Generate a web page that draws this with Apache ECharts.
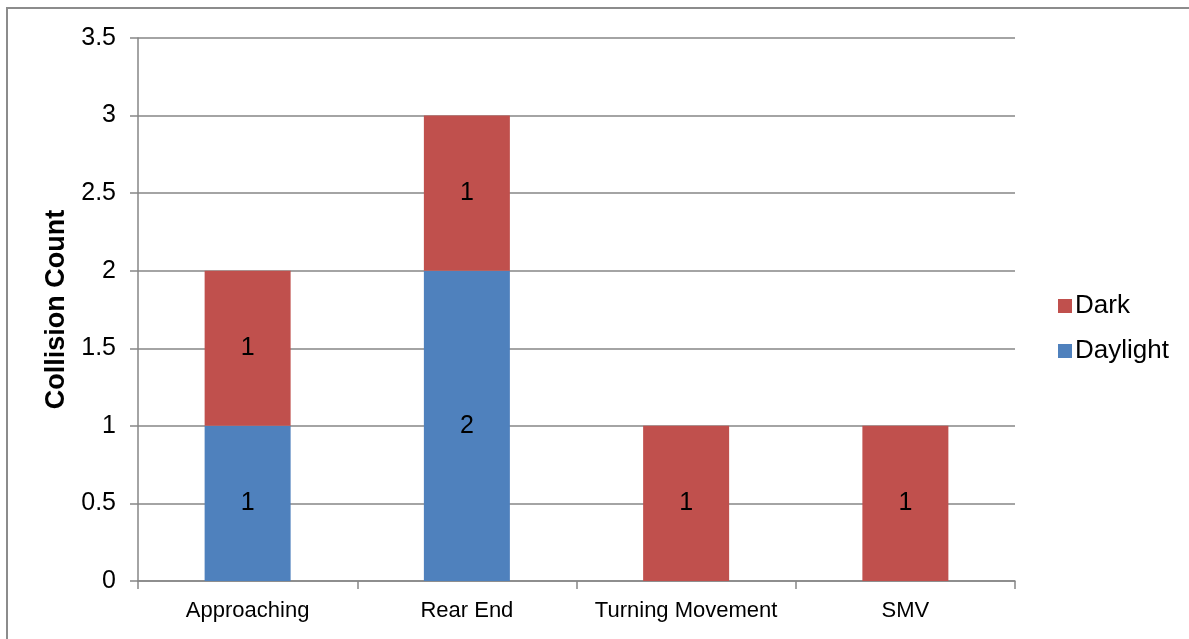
<!DOCTYPE html>
<html>
<head>
<meta charset="utf-8">
<script src="https://cdn.jsdelivr.net/npm/echarts@6/dist/echarts.min.js"></script>
<style>
html,body{margin:0;padding:0;background:#fff;overflow:hidden;}
#frame{position:absolute;left:6px;top:7px;width:1300px;height:800px;border:2px solid #8c8c8c;box-sizing:border-box;}
#chart{position:absolute;left:0;top:0;width:1189px;height:639px;}
</style>
</head>
<body>
<div id="frame"></div>
<div id="chart"></div>
<script>
const categories = ['Approaching', 'Rear End', 'Turning Movement', 'SMV'];
const daylight = [1, 2, null, null];
const dark = [1, 1, 1, 1];
const yTicks = [0, 0.5, 1, 1.5, 2, 2.5, 3, 3.5];

const chart = echarts.init(document.getElementById('chart'), null, {renderer: 'canvas'});
const font = 'Liberation Sans, Arial, sans-serif';
const labelStyle = {show: true, position: 'inside', color: '#000', fontSize: 25, fontFamily: font,
  formatter: p => (p.value == null ? '' : String(p.value))};
chart.setOption({
  animation: false,
  backgroundColor: 'transparent',
  grid: {left: 138, right: 174, top: 38, bottom: 58, containLabel: false},
  legend: {
    data: ['Dark', 'Daylight'],
    orient: 'vertical',
    left: 1053, top: 288,
    itemWidth: 14, itemHeight: 14, itemGap: 19,
    icon: 'rect',
    textStyle: {fontSize: 26, fontFamily: font, color: '#000', padding: [0, 0, 0, -2]}
  },
  xAxis: {
    type: 'category',
    data: categories,
    boundaryGap: true,
    axisLine: {lineStyle: {color: '#868686', width: 1.5}},
    axisTick: {show: true, alignWithLabel: false, length: 8, lineStyle: {color: '#868686', width: 1.5}},
    axisLabel: {interval: 0, fontSize: 22, fontFamily: font, color: '#000', margin: 19}
  },
  yAxis: {
    type: 'value',
    min: 0, max: 3.5, interval: 0.5,
    name: 'Collision Count',
    nameLocation: 'middle',
    nameGap: 66,
    nameRotate: 90,
    nameTextStyle: {fontSize: 27, fontWeight: 'bold', fontFamily: font, color: '#000'},
    axisLine: {show: true, lineStyle: {color: '#868686', width: 1.5}},
    axisTick: {show: true, length: 8, lineStyle: {color: '#868686', width: 1.5}},
    axisLabel: {fontSize: 25, fontFamily: font, color: '#000', margin: 22,
      formatter: v => yTicks.includes(v) ? String(v) : ''},
    splitLine: {show: true, lineStyle: {color: '#868686', width: 1.5}}
  },
  series: [
    {name: 'Daylight', type: 'bar', stack: 'total', data: daylight, barWidth: 86,
      itemStyle: {color: '#4F81BD'}, label: labelStyle},
    {name: 'Dark', type: 'bar', stack: 'total', data: dark, barWidth: 86,
      itemStyle: {color: '#C0504D'}, label: labelStyle}
  ]
});
</script>
</body>
</html>
